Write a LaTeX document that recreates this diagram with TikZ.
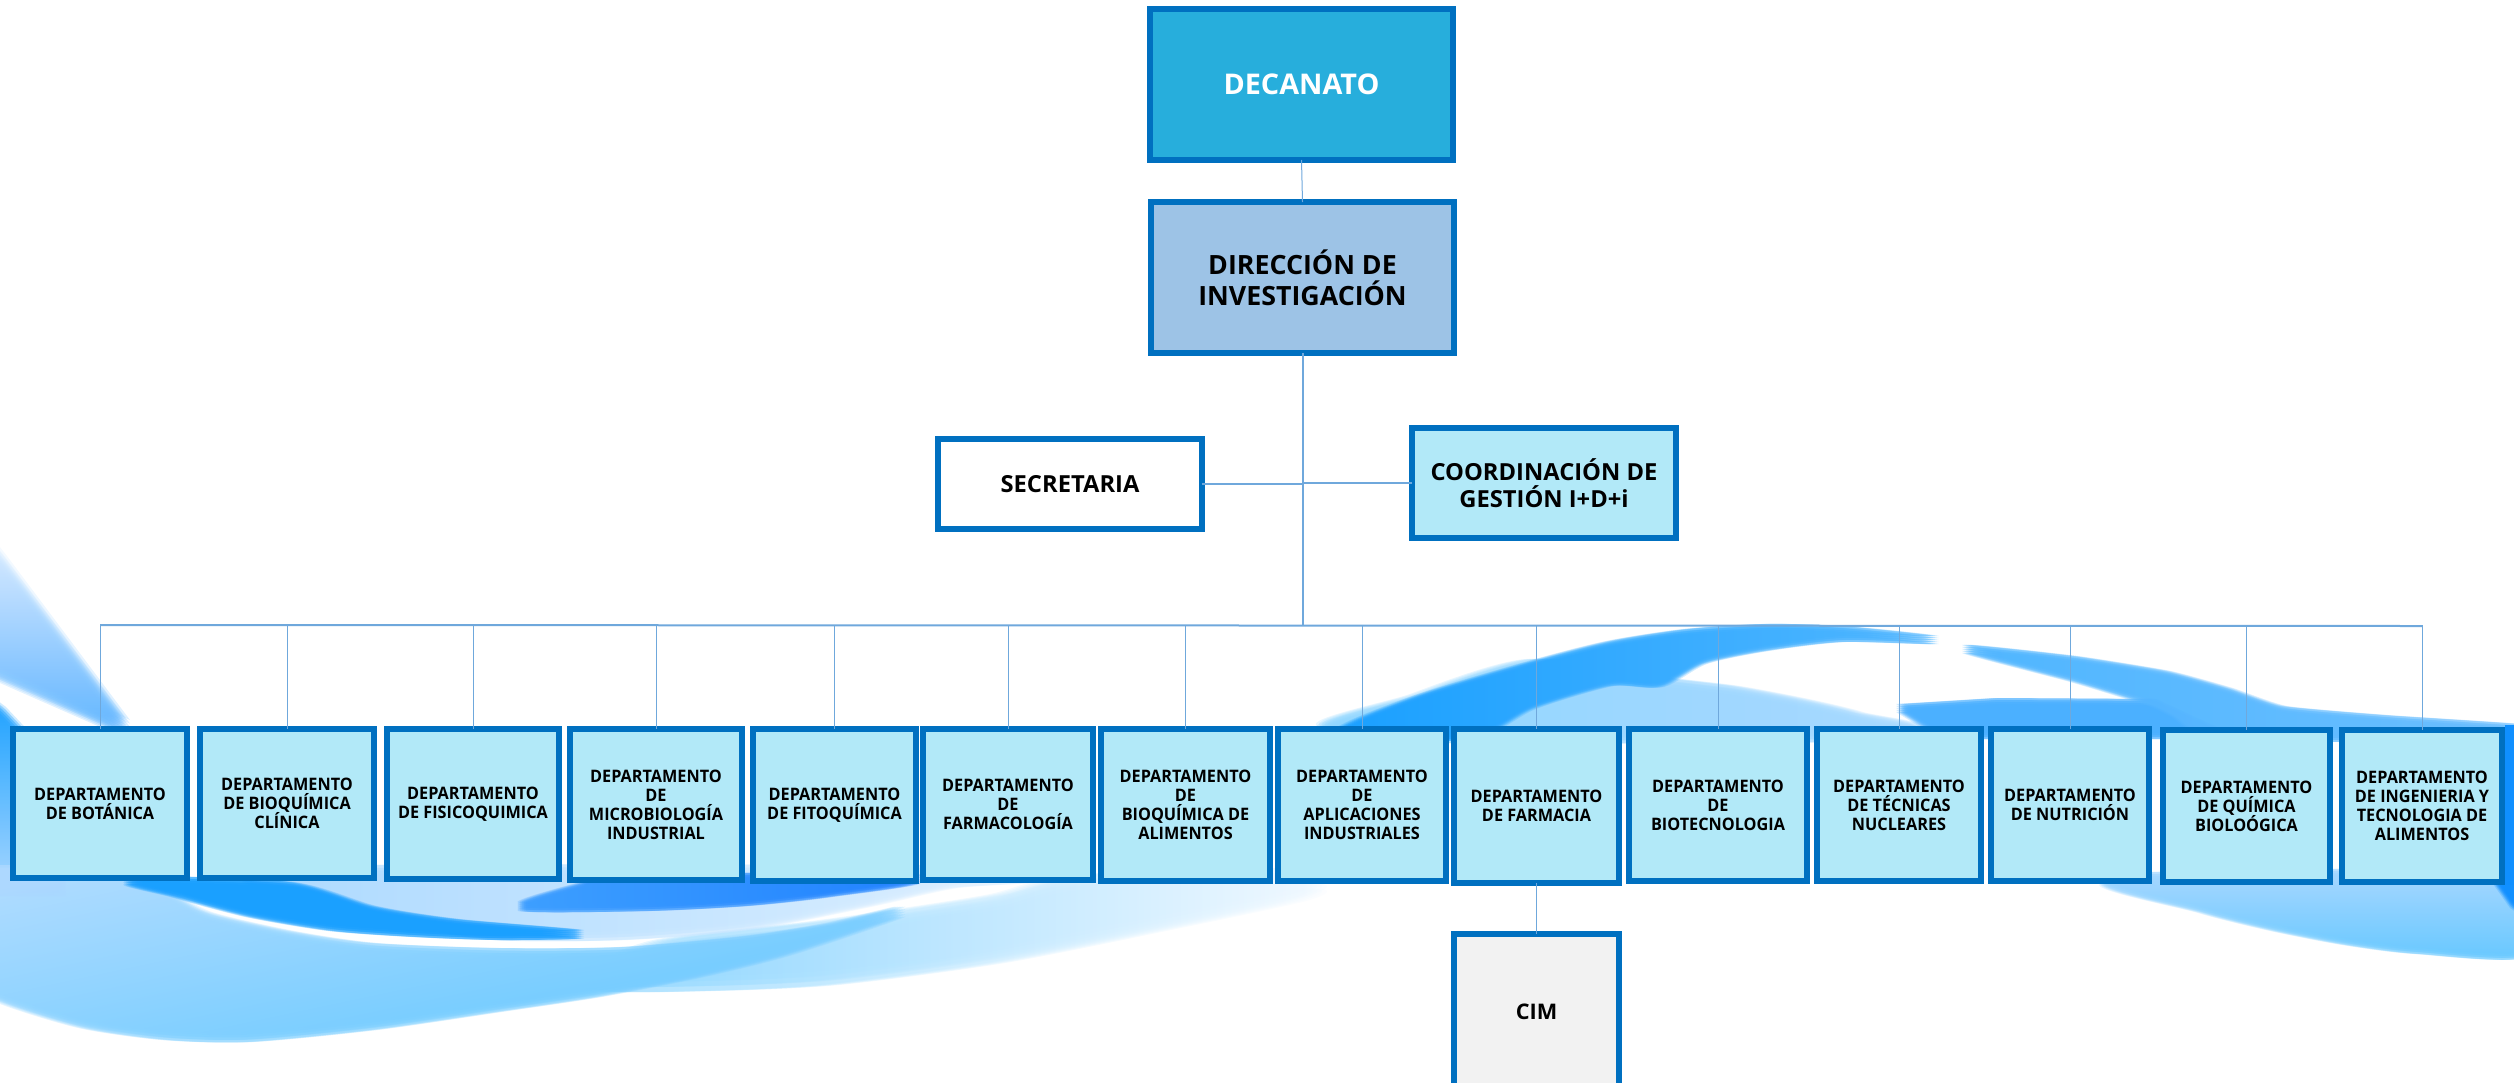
\documentclass[tikz,border=0pt]{standalone}
\usepackage{fontspec}
\setmainfont{Open Sans}
\newfontfamily\orgfont[FakeStretch=0.945,BoldFont={Open Sans Bold}]{Open Sans}
\newfontfamily\bigfont[FakeStretch=1.01,BoldFont={Open Sans Bold}]{Open Sans}
\definecolor{edgeblue}{HTML}{0070C0}
\definecolor{linkblue}{HTML}{6FA8DC}
\definecolor{deptfill}{HTML}{B2E9F8}
\definecolor{deanfill}{HTML}{27AEDC}
\definecolor{dirfill}{HTML}{9DC3E6}
\definecolor{cimfill}{HTML}{F2F2F2}
\definecolor{swa}{HTML}{E4F1FF}
\definecolor{swb}{HTML}{64B8FF}
\definecolor{swc}{HTML}{189FFF}
\definecolor{swd}{HTML}{A8D8FF}
\definecolor{swe}{HTML}{B0DCFF}
\definecolor{swf}{HTML}{6FCBFF}
\definecolor{swg}{HTML}{3B9EFF}
\definecolor{swh}{HTML}{1E80FF}
\definecolor{swi}{HTML}{4FB5FF}
\definecolor{swj}{HTML}{4AAFFF}
\definecolor{swk}{HTML}{0F7FFF}
\definecolor{swl}{HTML}{6BBEFF}
\definecolor{swm}{HTML}{66C8FF}
\definecolor{swn}{HTML}{0F8FFF}
\definecolor{swo}{HTML}{F2F9FF}
\definecolor{swp}{HTML}{8ED6FF}
\definecolor{swq}{HTML}{E4F2FF}
\definecolor{swr}{HTML}{64C8FF}
\tikzset{
  orgbox/.style={draw=edgeblue,line width=6pt,align=center,inner sep=0pt,outer sep=0pt,text=black},
  deptbox/.style={orgbox,fill=deptfill,font=\orgfont\bfseries\fontsize{17.2}{19}\selectfont},
  thinlink/.style={draw=linkblue,line width=1pt},
  thicklink/.style={draw=linkblue,line width=2pt}
}
\def\tens{.45}
% soft-edged background shapes: many shifted translucent copies
\newcommand\blurshape[3]{%
  \foreach \ii in {-2,-1,0,1,2}{\foreach \jj in {-2,-1,0,1,2}{%
    \begin{scope}[shift={({\ii*#1},{\jj*#1})}]
      \shade[#2,opacity=.22] plot[smooth cycle,tension=\tens] coordinates {#3};
    \end{scope}}}}
\newcommand\blurpoly[3]{%
  \foreach \ii in {-2,-1,0,1,2}{\foreach \jj in {-2,-1,0,1,2}{%
    \begin{scope}[shift={({\ii*#1},{\jj*#1})}]
      \shade[#2,opacity=.22] #3 -- cycle;
    \end{scope}}}}
% box given by its outer corners
\newcommand\orgnode[7]{%
  \node[#1,minimum width={#5-#3-6},minimum height={#6-#4-6}] (#2) at ({(#3+#5)/2},{(#4+#6)/2}) {#7};}
\begin{document}
\begin{tikzpicture}[x=1pt,y=-1pt]
\useasboundingbox (0,0) rectangle (2514,1082);
\begin{scope}
\clip (0,0) rectangle (2514,1082);
% ---- left wing
\blurpoly{3.5}{top color=swa,bottom color=swb}{(-30,525) -- (0,563) -- (123,727) -- (0,673) -- (-30,660)}
\blurpoly{3}{top color=swc,middle color=swn,bottom color=swd}{(-30,690) -- (0,713) -- (30,745) -- (60,890) -- (-30,890)}
% ---- faint fan
\blurshape{5}{left color=swp,right color=swo}{(600,980) (705,981) (829,975) (995,953) (1161,920) (1300,890) (1300,878) (1078,885) (995,905) (829,930) (663,950)}
% ---- main lower band
\blurshape{2.5}{top color=swe,bottom color=swr,shading angle=12}{(-40,875) (133,878) (166,895) (207,917) (290,936) (373,948) (497,953) (622,952) (746,941) (829,928) (900,912) (788,950) (700,972) (597,992) (497,1007) (373,1025) (249,1037) (166,1035) (83,1023) (0,997) (-40,970)}
% ---- light region over the white ribbon
\blurshape{3}{left color=swd,right color=swq}{(280,872) (1060,872) (953,882) (870,900) (746,924) (622,934) (497,934) (400,918) (330,895)}
% ---- dark crescent
\blurshape{2}{left color=swc,right color=swc}{(130,880) (290,886) (373,910) (456,923) (580,934) (498,936) (415,933) (332,927) (249,913) (174,893)}
% ---- second crescent
\blurshape{2}{left color=swg,right color=swh}{(522,907) (580,887) (622,878) (912,878) (829,893) (746,902) (647,907)}
% ---- big right wave: light body, then darker ridge
\blurshape{3}{left color=swp,right color=swd}{(1339,735) (1416,700) (1532,665) (1660,683) (1734,692) (1803,705) (1857,718) (1896,735)}
\blurshape{2}{left color=swc,right color=swi}{(1339,735) (1416,700) (1532,665) (1610,645) (1687,633) (1765,628) (1842,630) (1935,640) (1842,638) (1765,647) (1703,660) (1660,683) (1610,682) (1532,705) (1470,735)}
% ---- right crescent group
\blurpoly{2}{left color=swj,right color=swj}{(1900,708) -- (1997,702) -- (2152,703) -- (2221,735) -- (1943,735)}
\def\tens{.3}
\blurshape{2}{left color=swi,middle color=swk,right color=swl}{(1966,649) (2074,660) (2167,675) (2229,692) (2283,710) (2384,719) (2530,729) (2530,740) (2221,735) (2175,713) (2152,702) (2074,678)}
\def\tens{.45}
% ---- lower right
\blurshape{2}{top color=swd,bottom color=swm}{(2112,878) (2530,878) (2530,952) (2418,950) (2346,941) (2274,927) (2202,909)}
\blurpoly{2}{left color=swn,right color=swn}{(2490,870) -- (2530,870) -- (2530,915) -- (2514,904)}
\fill[swn] (2505,725) rectangle (2514,885);
\end{scope}
% ---- boxes
\orgnode{orgbox,fill=deanfill,text=white,font=\bigfont\bfseries\fontsize{28.5}{32}\selectfont}{dean}{1147}{6}{1456}{163}{DECANATO}
\orgnode{orgbox,fill=dirfill,font=\bigfont\bfseries\fontsize{26.5}{31.4}\selectfont}{dir}{1148}{199}{1457}{356}{DIRECCIÓN DE\\INVESTIGACIÓN}
\orgnode{orgbox,fill=white,font=\bigfont\bfseries\fontsize{23.5}{27.5}\selectfont}{sec}{935}{436}{1205}{532}{SECRETARIA}
\orgnode{orgbox,fill=deptfill,font=\bigfont\bfseries\fontsize{23.5}{27.5}\selectfont}{coord}{1409}{425}{1679}{541}{COORDINACIÓN DE\\GESTIÓN I+D+i}
\orgnode{deptbox}{d1}{10}{726}{190}{881}{DEPARTAMENTO\\DE BOTÁNICA}
\orgnode{deptbox}{d2}{197}{726}{377}{881}{DEPARTAMENTO\\DE BIOQUÍMICA\\CLÍNICA}
\orgnode{deptbox}{d3}{384}{726}{562}{882}{DEPARTAMENTO\\DE FISICOQUIMICA}
\orgnode{deptbox}{d4}{567}{726}{745}{883}{DEPARTAMENTO\\DE\\MICROBIOLOGÍA\\INDUSTRIAL}
\orgnode{deptbox}{d5}{750}{726}{919}{884}{DEPARTAMENTO\\DE FITOQUÍMICA}
\orgnode{deptbox}{d6}{920}{726}{1096}{883}{DEPARTAMENTO\\DE\\FARMACOLOGÍA}
\orgnode{deptbox}{d7}{1098}{726}{1273}{884}{DEPARTAMENTO\\DE\\BIOQUÍMICA DE\\ALIMENTOS}
\orgnode{deptbox}{d8}{1275}{726}{1449}{884}{DEPARTAMENTO\\DE\\APLICACIONES\\INDUSTRIALES}
\orgnode{deptbox}{d9}{1451}{726}{1622}{886}{DEPARTAMENTO\\DE FARMACIA}
\orgnode{deptbox}{d10}{1626}{726}{1810}{884}{DEPARTAMENTO\\DE\\BIOTECNOLOGIA}
\orgnode{deptbox}{d11}{1814}{726}{1984}{884}{DEPARTAMENTO\\DE TÉCNICAS\\NUCLEARES}
\orgnode{deptbox}{d12}{1988}{726}{2152}{884}{DEPARTAMENTO\\DE NUTRICIÓN}
\orgnode{deptbox}{d13}{2160}{727}{2333}{885}{DEPARTAMENTO\\DE QUÍMICA\\BIOLOÓGICA}
\orgnode{deptbox}{d14}{2339}{727}{2505}{885}{DEPARTAMENTO\\DE INGENIERIA Y\\TECNOLOGIA DE\\ALIMENTOS}
\orgnode{orgbox,fill=cimfill,font=\bigfont\bfseries\fontsize{21.5}{25}\selectfont}{cim}{1451}{931}{1622}{1092}{CIM}
% ---- connectors
\coordinate (busL) at (d1.north |- 0,625);
\coordinate (busR) at (d14.north |- 0,626);
\coordinate (busM) at (dir.south |- 0,626);
\draw[thinlink] (dean.south) -- (dir.north);
\draw[thicklink] (dir.south) -- (busM);
\draw[thicklink] (sec.east) -- (sec.east -| dir.south);
\draw[thicklink] (coord.west) -- (coord.west -| dir.south);
\draw[thicklink] (busL) -- (busR);
\foreach \k in {1,...,14}{\draw[thinlink] (d\k.north |- busL) -- (d\k.north);}
\draw[thinlink] (d9.south) -- (cim.north);
\end{tikzpicture}
\end{document}
